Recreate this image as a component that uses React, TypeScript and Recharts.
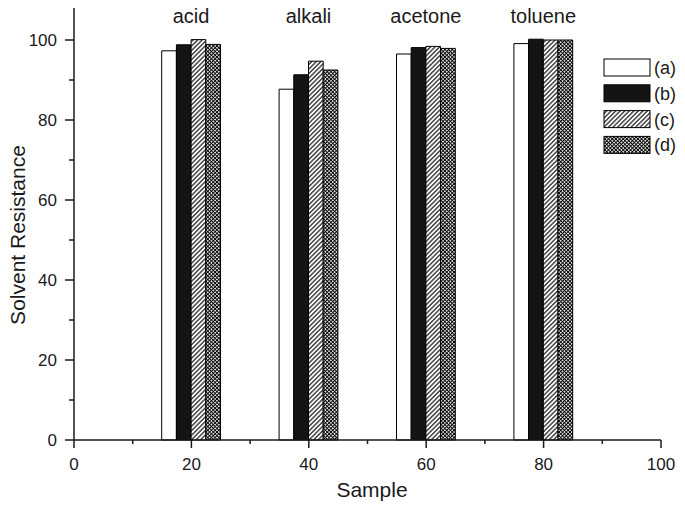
import React from 'react';
import { BarChart, Bar, XAxis, YAxis, Legend, LabelList } from 'recharts';

// solvent groups sit on a numeric "Sample" axis
const solvents = ['acid', 'alkali', 'acetone', 'toluene'];
const samplePos = [20, 40, 60, 80];

const seriesA = [97.3, 87.7, 96.5, 99.1];
const seriesB = [98.8, 91.3, 98.1, 100.2];
const seriesC = [100.1, 94.7, 98.4, 100];
const seriesD = [98.9, 92.5, 97.9, 100];

const xTicks = [0, 10, 20, 30, 40, 50, 60, 70, 80, 90, 100];
const yTicks = [0, 10, 20, 30, 40, 50, 60, 70, 80, 90, 100];

const FONT = '"Liberation Sans", Arial, sans-serif';
const INK = '#1a1a1a';

const data = samplePos.map((x, i) => ({
  x,
  name: solvents[i],
  a: seriesA[i],
  b: seriesB[i],
  c: seriesC[i],
  d: seriesD[i],
}));

const fills: { [key: string]: string } = {
  a: '#ffffff',
  b: '#141414',
  c: 'url(#hatch)',
  d: 'url(#cross)',
};

const XTick = (props: any) => {
  const { x, y, payload } = props;
  const major = payload.value % 20 === 0;
  return (
    <g>
      <line x1={x} y1={y} x2={x} y2={y + (major ? 8 : 4)} stroke={INK} strokeWidth={1.5} />
      {major && (
        <text x={x} y={y + 30} textAnchor="middle" fontSize={17} fill={INK} fontFamily={FONT}>
          {payload.value}
        </text>
      )}
    </g>
  );
};

const YTick = (props: any) => {
  const { x, y, payload } = props;
  const major = payload.value % 20 === 0;
  return (
    <g>
      <line x1={x} y1={y} x2={x - (major ? 9 : 5)} y2={y} stroke={INK} strokeWidth={1.5} />
      {major && (
        <text x={x - 17} y={y + 6} textAnchor="end" fontSize={17} fill={INK} fontFamily={FONT}>
          {payload.value}
        </text>
      )}
    </g>
  );
};

const LegendBoxes = (props: any) => {
  const payload = props.payload || [];
  return (
    <svg width={82} height={104}>
      {payload.map((p: any, i: number) => (
        <g key={p.dataKey}>
          <rect x={1} y={i * 25.8 + 1} width={46} height={17} fill={fills[p.dataKey]} stroke="#000" strokeWidth={1} />
          <text x={51} y={i * 25.8 + 16} fontSize={18} fill={INK} fontFamily={FONT}>
            {p.value}
          </text>
        </g>
      ))}
    </svg>
  );
};

const GroupLabel = (props: any) => {
  const { x, value } = props;
  return (
    <text x={x} y={23} textAnchor="middle" fontSize={20} fill={INK} fontFamily={FONT}>
      {value}
    </text>
  );
};

export default function App() {
  return (
    <div style={{ position: 'absolute', left: 0, top: 0, background: '#fff' }}>
      <BarChart
        width={685}
        height={505}
        data={data}
        margin={{ top: 8, right: 24, left: 14, bottom: 8 }}
        barGap={0}
        barSize={14.7}
      >
        <defs>
          <pattern id="hatch" patternUnits="userSpaceOnUse" width={3.2} height={3.2} patternTransform="rotate(45)">
            <rect width={3.2} height={3.2} fill="#fff" />
            <line x1={1.6} y1={0} x2={1.6} y2={3.2} stroke="#000" strokeWidth={1.1} />
          </pattern>
          <pattern id="cross" patternUnits="userSpaceOnUse" width={2.6} height={2.6} patternTransform="rotate(45)">
            <rect width={2.6} height={2.6} fill="#fff" />
            <line x1={1.3} y1={0} x2={1.3} y2={2.6} stroke="#000" strokeWidth={1} />
            <line x1={0} y1={1.3} x2={2.6} y2={1.3} stroke="#000" strokeWidth={1} />
          </pattern>
        </defs>
        <XAxis
          type="number"
          dataKey="x"
          domain={[0, 100]}
          ticks={xTicks}
          interval={0}
          height={57}
          tickSize={0}
          tickMargin={0}
          tickLine={false}
          tick={<XTick />}
          axisLine={{ stroke: INK, strokeWidth: 1.5 }}
          label={() => (
            <text x={372} y={497} textAnchor="middle" fontSize={21} fill={INK} fontFamily={FONT}>
              Sample
            </text>
          )}
        />
        <YAxis
          type="number"
          domain={[0, 108]}
          ticks={yTicks}
          interval={0}
          width={60}
          tickSize={0}
          tickMargin={0}
          tickLine={false}
          tick={<YTick />}
          axisLine={{ stroke: INK, strokeWidth: 1.5 }}
          label={() => (
            <text
              x={-235}
              y={25}
              transform="rotate(-90)"
              textAnchor="middle"
              fontSize={21}
              fill={INK}
              fontFamily={FONT}
            >
              Solvent Resistance
            </text>
          )}
        />
        <Legend
          layout="horizontal"
          verticalAlign="middle"
          align="center"
          content={<LegendBoxes />}
          wrapperStyle={{ left: 603, top: 58, width: 82, height: 104 }}
        />
        <Bar dataKey="a" name="(a)" fill={fills.a} stroke="#000" strokeWidth={1} isAnimationActive={false} />
        <Bar dataKey="b" name="(b)" fill={fills.b} stroke="#000" strokeWidth={1} isAnimationActive={false} />
        <Bar dataKey="c" name="(c)" fill={fills.c} stroke="#000" strokeWidth={1} isAnimationActive={false}>
          <LabelList dataKey="name" content={<GroupLabel />} />
        </Bar>
        <Bar dataKey="d" name="(d)" fill={fills.d} stroke="#000" strokeWidth={1} isAnimationActive={false} />
      </BarChart>
    </div>
  );
}
